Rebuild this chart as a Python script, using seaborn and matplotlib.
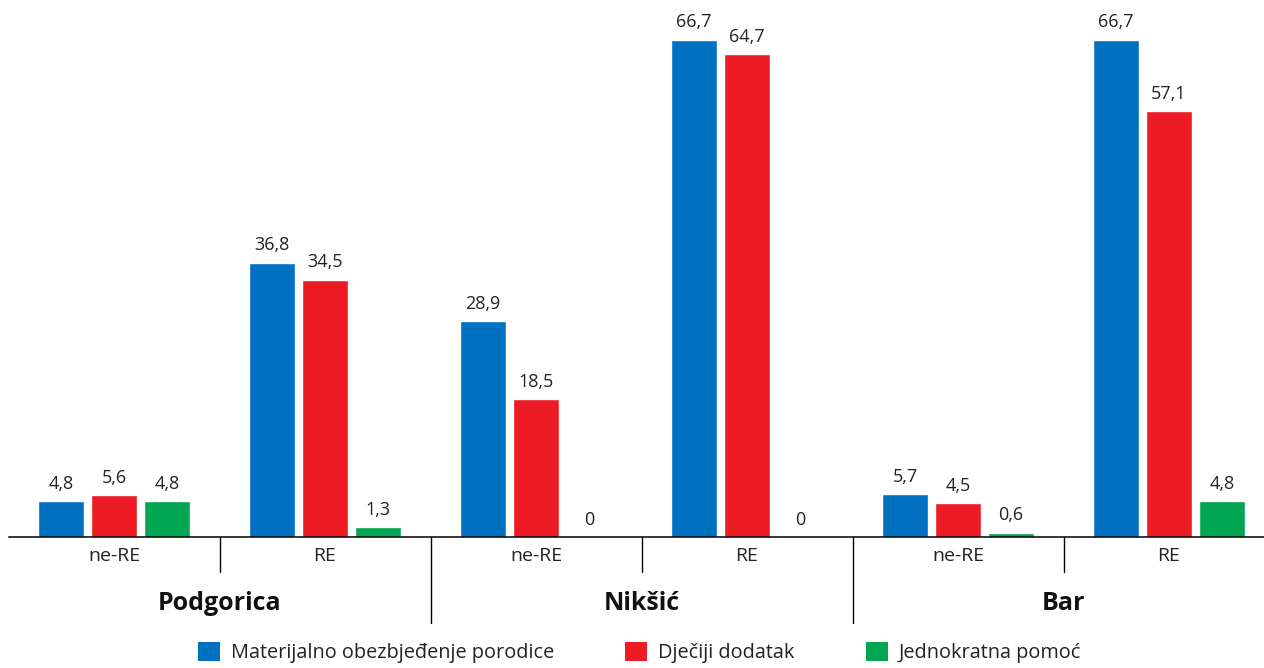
import pandas as pd
import matplotlib.pyplot as plt
import matplotlib.transforms as mtransforms
from matplotlib.patches import Patch
import seaborn as sns

# Data
cities = ["Podgorica", "Nikšić", "Bar"]
groups = ["ne-RE", "RE"]
series = ["Materijalno obezbjeđenje porodice", "Dječiji dodatak", "Jednokratna pomoć"]
materijalno = [4.8, 36.8, 28.9, 66.7, 5.7, 66.7]
djeciji = [5.6, 34.5, 18.5, 64.7, 4.5, 57.1]
jednokratna = [4.8, 1.3, 0, 0, 0.6, 4.8]
colors = ["#0070C0", "#ED1C24", "#00A651"]

slots = [f"{c} {g}" for c in cities for g in groups]
rows = []
for name, vals in zip(series, [materijalno, djeciji, jednokratna]):
    for slot, v in zip(slots, vals):
        rows.append({"slot": slot, "serija": name, "vrijednost": v})
df = pd.DataFrame(rows)

sns.set_style("white")
plt.rcParams["font.family"] = ["Open Sans", "DejaVu Sans"]

fig = plt.figure(figsize=(12.64, 6.68), dpi=100)
ax = fig.add_axes([8.5 / 1264, 131 / 668, 1 - 8.5 / 1264, 537 / 668])

sns.barplot(data=df, x="slot", y="vrijednost", hue="serija", order=slots,
            hue_order=series, palette=colors, width=0.754, gap=0.13,
            saturation=1, legend=False, ax=ax)

for cont in ax.containers:
    labels = [f"{b.get_height():g}".replace(".", ",") for b in cont]
    ax.bar_label(cont, labels=labels, padding=6, fontsize=13, color="#222222")

ax.set_xlim(-0.5, 5.45)
ax.set_ylim(0, 72)
ax.set_xticks(range(len(slots)))
ax.set_xticklabels(groups * len(cities), fontsize=14, color="#222222")
ax.tick_params(axis="x", length=0, pad=7)
ax.set_xlabel("")
ax.set_ylabel("")
ax.set_yticks([])
for s in ["top", "left", "right"]:
    ax.spines[s].set_visible(False)
ax.spines["bottom"].set_color("black")
ax.spines["bottom"].set_linewidth(1.1)

trans = mtransforms.blended_transform_factory(ax.transData, ax.transAxes)
for x, low in [(0.5, -0.065), (1.5, -0.16), (2.5, -0.065), (3.5, -0.16), (4.5, -0.065)]:
    ax.plot([x, x], [0, low], color="black", lw=1.0, transform=trans, clip_on=False)

for i, c in enumerate(cities):
    ax.text(2 * i + 0.5, -0.123, c, transform=trans, ha="center", va="center",
            fontsize=18, fontweight="bold", color="#111111")

handles = [Patch(facecolor=col, edgecolor="none") for col in colors]
fig.legend(handles, series, loc="lower center", bbox_to_anchor=(0.506, -0.02), ncol=3,
           frameon=False, fontsize=14.3, handlelength=1.1, handleheight=1.1,
           handletextpad=0.55, columnspacing=3.6, labelcolor="#222222")

fig.savefig("out.png", dpi=100)
